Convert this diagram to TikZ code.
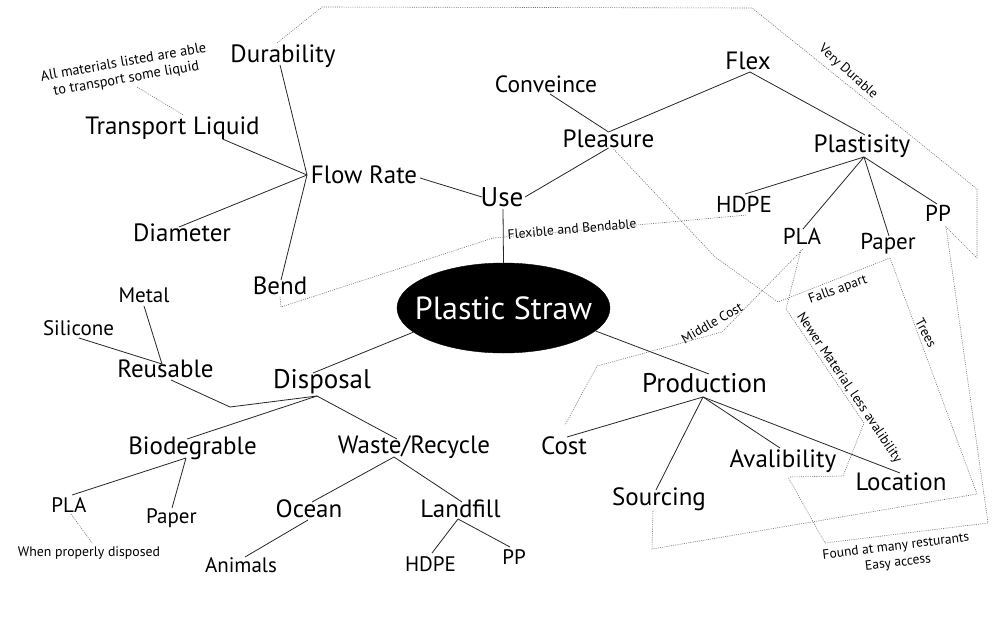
\documentclass[tikz,border=0pt]{standalone}
\usepackage{fontspec}
\setmainfont{PT Sans}
\usetikzlibrary{shapes.geometric}
\tikzset{
  txt/.style={anchor=base, inner sep=0pt, font=\fontsize{#1}{#1}\selectfont},
  note/.style={anchor=center, inner sep=0pt, align=center, font=\fontsize{13.5}{16.5}\selectfont},
  edge/.style={line width=0.8pt, draw=black!85},
  dot/.style={line width=0.6pt, draw=black!55, dash pattern=on 1pt off 1.2pt},
  ell/.style={ellipse, fill=black, draw=black, inner sep=0pt, minimum width=213pt, minimum height=90pt}
}
\begin{document}
\begin{tikzpicture}[x=1pt,y=-1pt]
\useasboundingbox[fill=white] (0,0) rectangle (1003,616);

% central node
\node[ell, label={[text=white, inner sep=0pt, font=\fontsize{32}{32}\selectfont]center:Plastic Straw}] (ell) at (503.5,308) {};

% Use branch
\node[txt=27] (use) at (502,206) {Use};
\node[txt=25] (fr) at (364,183) {Flow Rate};
\node[txt=25] (dur) at (283,62) {Durability};
\node[txt=25] (tl) at (172.5,134) {Transport Liquid};
\node[txt=25] (dia) at (182,241) {Diameter};
\node[txt=25] (bend) at (280,294) {Bend};
\node[txt=25] (plea) at (608.5,147) {Pleasure};
\node[txt=23.5] (conv) at (546,92) {Conveince};
\node[txt=25] (flex) at (748,69) {Flex};
\node[txt=25] (plas) at (862,152) {Plastisity};
\node[txt=23] (hdpeT) at (744,212) {HDPE};
\node[txt=23] (plaT) at (802,244) {PLA};
\node[txt=23] (paperT) at (888,249) {Paper};
\node[txt=23] (ppT) at (938,221) {PP};

% Disposal branch
\node[txt=27] (disp) at (322,388) {Disposal};
\node[txt=25] (reus) at (165.5,377) {Reusable};
\node[txt=21] (metal) at (144,302) {Metal};
\node[txt=21] (sil) at (78.5,335) {Silicone};
\node[txt=25] (bio) at (192.5,454) {Biodegrable};
\node[txt=25] (waste) at (414,453) {Waste/Recycle};
\node[txt=21] (plaB) at (69,512) {PLA};
\node[txt=21] (paperB) at (171.5,523) {Paper};
\node[txt=25] (ocean) at (309,517) {Ocean};
\node[txt=25] (land) at (460.5,517) {Landfill};
\node[txt=21] (anim) at (241,572) {Animals};
\node[txt=21] (hdpeB) at (430.5,571) {HDPE};
\node[txt=21] (ppB) at (514,564) {PP};

% Production branch
\node[txt=27] (prod) at (704.5,392) {Production};
\node[txt=25] (cost) at (564,454) {Cost};
\node[txt=25] (src) at (659,505) {Sourcing};
\node[txt=25] (aval) at (783,467) {Avalibility};
\node[txt=25] (loc) at (901,490) {Location};

% annotation texts
\node[note, rotate=10, font=\fontsize{14.3}{16.5}\selectfont] (noteTL) at (125,71) {All materials listed are able\\to transport some liquid};
\node[note, font=\fontsize{13.8}{16.5}\selectfont] (when) at (89,553) {When properly disposed};
\node[note, rotate=5] (flexb) at (572,229) {Flexible and Bendable};
\node[note, rotate=-42] (vdur) at (848,72) {Very Durable};
\node[note, rotate=20] (falls) at (838,290) {Falls apart};
\node[note, rotate=30] (mid) at (712,323) {Middle Cost};
\node[note, rotate=-56] (newer) at (849,388) {Newer Material, less avalibility};
\node[note, rotate=-62] (trees) at (926,333) {Trees};
\node[note, rotate=7] (found) at (897,555) {Found at many resturants\\Easy access};

% hubs
\coordinate (frhub) at ([shift={(-57,-8)}]fr.base);

% solid edges: Use branch
\draw[edge] ([shift={(-3,3)}]dur.base) -- (frhub);
\draw[edge] ([shift={(50,5)}]tl.base) -- (frhub);
\draw[edge] ([shift={(-3,-14)}]dia.base) -- (frhub);
\draw[edge] ([shift={(1,-14)}]bend.base) -- (frhub);
\draw[edge] ([shift={(56,-5)}]fr.base) -- ([shift={(-20,-9)}]use.base);
\draw[edge] ([shift={(23,-9)}]use.base) -- ([shift={(0,1)}]plea.base);
\draw[edge] ([shift={(1,3)}]use.base) -- (ell.north);
\draw[edge] ([shift={(4,2)}]conv.base) -- ([shift={(0,-15)}]plea.base);
\draw[edge] ([shift={(0,-15)}]plea.base) -- ([shift={(2,3)}]flex.base);
\draw[edge] ([shift={(2,3)}]flex.base) -- ([shift={(3,-17)}]plas.base);
\draw[edge] ([shift={(2,5)}]plas.base) -- ([shift={(1,-18)}]hdpeT.base);
\draw[edge] ([shift={(2,5)}]plas.base) -- ([shift={(1,-15)}]plaT.base);
\draw[edge] ([shift={(2,5)}]plas.base) -- ([shift={(1,-13)}]paperT.base);
\draw[edge] ([shift={(2,5)}]plas.base) -- ([shift={(-1,-17)}]ppT.base);

% solid edges: Disposal branch
\draw[edge] (ell.195) -- ([shift={(-9,-15)}]disp.base);
\draw[edge] ([shift={(5.5,3)}]reus.base) -- (230,407) -- ([shift={(-5,8)}]disp.base);
\draw[edge] ([shift={(-5,8)}]disp.base) -- ([shift={(-5.5,-15)}]bio.base);
\draw[edge] ([shift={(-5,8)}]disp.base) -- ([shift={(-17,-14)}]waste.base);
\draw[edge] ([shift={(0,4)}]metal.base) -- ([shift={(-3.5,-13)}]reus.base);
\draw[edge] ([shift={(0.5,3)}]sil.base) -- ([shift={(-3.5,-13)}]reus.base);
\draw[edge] ([shift={(-6.5,4)}]bio.base) -- ([shift={(3,-17)}]plaB.base);
\draw[edge] ([shift={(-6.5,4)}]bio.base) -- ([shift={(0.5,-15)}]paperB.base);
\draw[edge] ([shift={(-20,4)}]waste.base) -- ([shift={(3,-15)}]ocean.base);
\draw[edge] ([shift={(-20,4)}]waste.base) -- ([shift={(1.5,-15)}]land.base);
\draw[edge] ([shift={(-1,3)}]ocean.base) -- ([shift={(4,-15)}]anim.base);
\draw[edge] ([shift={(-2.5,2)}]land.base) -- ([shift={(1.5,-18)}]hdpeB.base);
\draw[edge] ([shift={(-2.5,2)}]land.base) -- ([shift={(-4,-17)}]ppB.base);

% solid edges: Production branch
\draw[edge] (ell.-14) -- ([shift={(4.5,-18)}]prod.base);
\draw[edge] ([shift={(-1.5,5)}]prod.base) -- ([shift={(3,-17)}]cost.base);
\draw[edge] ([shift={(-1.5,5)}]prod.base) -- ([shift={(-3,-15)}]src.base);
\draw[edge] ([shift={(-1.5,5)}]prod.base) -- ([shift={(-3,-19)}]aval.base);
\draw[edge] ([shift={(-1.5,5)}]prod.base) -- ([shift={(-1,-17)}]loc.base);

% dotted annotation links
\draw[dot] ([shift={(-6,-19)}]dur.base) -- (322,7) -- (752,8) -- (977,189) -- (977,258) -- ([shift={(7,5)}]ppT.base);
\draw[dot] ([shift={(12,16)}]noteTL.center) -- ([shift={(11,-19)}]tl.base);
\draw[dot] ([shift={(0,3)}]bend.base) -- (281,307) -- (493,238) -- ([shift={(3,3)}]hdpeT.base);
\draw[dot] ([shift={(5,2)}]plea.base) -- (715,257) -- (778,302) -- ([shift={(2,9)}]paperT.base);
\draw[dot] ([shift={(1,5)}]plaT.base) -- (722,332) -- (597,366) -- ([shift={(1,-29)}]cost.base);
\draw[dot] ([shift={(-1,6)}]plaT.base) -- (786,309) -- (864,423) -- (843,476) -- ([shift={(6,10)}]aval.base);
\draw[dot] ([shift={(2,9)}]paperT.base) -- (977,494) -- (652,549) -- ([shift={(-6,5)}]src.base);
\draw[dot] ([shift={(8,6)}]ppT.base) -- (988,523) -- (825,543) -- ([shift={(5,10)}]aval.base);
\draw[dot] ([shift={(2,2)}]plaB.base) -- ([shift={(3,-10)}]when.center);
\end{tikzpicture}
\end{document}
